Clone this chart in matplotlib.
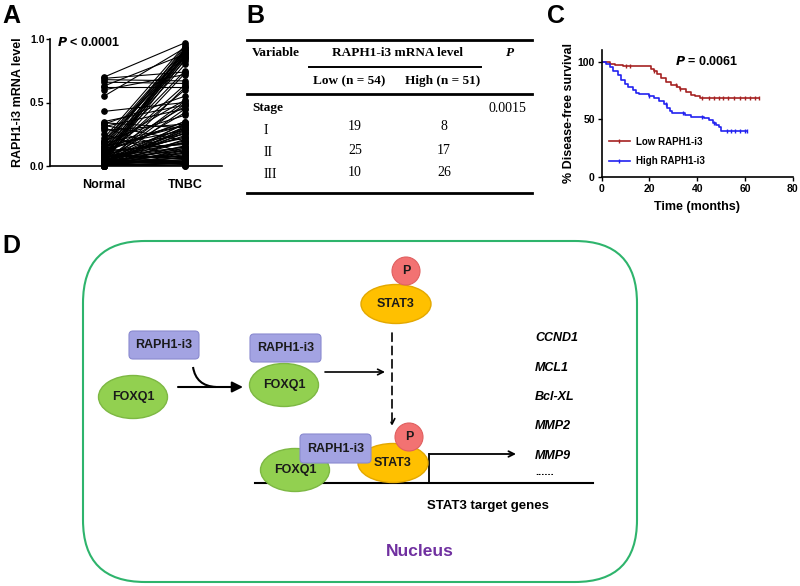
"""
Four-panel RAPH1-i3 figure: paired expression (A), clinical table (B),
Kaplan-Meier disease-free survival (C) and a pathway sketch (D).
"""

import numpy as np
import matplotlib
matplotlib.use("Agg")
import matplotlib.pyplot as plt
from matplotlib.patches import Ellipse, Circle, FancyBboxPatch, FancyArrowPatch, PathPatch
from matplotlib.path import Path
from matplotlib.lines import Line2D

plt.rcParams["font.family"] = ["Liberation Sans", "DejaVu Sans"]
plt.rcParams["font.weight"] = "bold"

# ── DATA ──────────────────────────────────────────────────────────
# Panel A: paired RAPH1-i3 mRNA levels (normal vs TNBC tissue)
GROUPS = ["Normal", "TNBC"]
normal = [
    0.70, 0.69, 0.68, 0.66, 0.63, 0.62, 0.60, 0.55, 0.43, 0.35,
    0.34, 0.33, 0.32, 0.31, 0.30, 0.28, 0.25, 0.22, 0.20, 0.20,
    0.19, 0.18, 0.18, 0.17, 0.16, 0.15, 0.15, 0.14, 0.14, 0.13,
    0.12, 0.12, 0.11, 0.11, 0.10, 0.10, 0.09, 0.09, 0.08, 0.08,
    0.08, 0.07, 0.07, 0.07, 0.06, 0.06, 0.06, 0.05, 0.05, 0.05,
    0.05, 0.04, 0.04, 0.04, 0.04, 0.03, 0.03, 0.03, 0.03, 0.03,
    0.02, 0.02, 0.02, 0.02, 0.02, 0.02, 0.01, 0.01, 0.01, 0.01,
    0.01, 0.01, 0.01, 0.00, 0.00, 0.00, 0.00, 0.00, 0.00, 0.00,
    0.12, 0.09, 0.06, 0.04, 0.02, 0.01, 0.15, 0.08, 0.03, 0.00,
    0.05, 0.10, 0.02, 0.07, 0.00, 0.03, 0.01, 0.04, 0.06, 0.11,
    0.00, 0.02, 0.05, 0.01, 0.00,
]
tnbc = [
    0.97, 0.74, 0.67, 0.65, 0.88, 0.62, 0.72, 0.93, 0.50, 0.48,
    0.30, 0.55, 0.20, 0.45, 0.10, 0.33, 0.05, 0.95, 0.92, 0.40,
    0.90, 0.86, 0.32, 0.89, 0.28, 0.94, 0.52, 0.91, 0.25, 0.85,
    0.87, 0.35, 0.83, 0.18, 0.80, 0.47, 0.75, 0.22, 0.92, 0.60,
    0.30, 0.88, 0.15, 0.64, 0.90, 0.27, 0.12, 0.86, 0.42, 0.08,
    0.73, 0.33, 0.20, 0.06, 0.51, 0.24, 0.14, 0.04, 0.93, 0.31,
    0.29, 0.10, 0.03, 0.19, 0.84, 0.49, 0.26, 0.07, 0.16, 0.02,
    0.34, 0.11, 0.05, 0.21, 0.09, 0.02, 0.30, 0.13, 0.62, 0.01,
    0.17, 0.06, 0.23, 0.04, 0.28, 0.12, 0.32, 0.08, 0.03, 0.45,
    0.15, 0.05, 0.89, 0.18, 0.07, 0.26, 0.02, 0.10, 0.01, 0.35,
    0.03, 0.14, 0.04, 0.00, 0.00,
]

# Panel B: stage distribution by RAPH1-i3 level
stages = ["I", "II", "III"]
low_counts = [19, 25, 10]
high_counts = [8, 17, 26]
stage_p = "0.0015"

# Panel C: Kaplan-Meier steps (months, % disease-free)
low_t = [0, 3.4, 5.5, 9, 20.5, 22, 23, 25, 27, 29, 31.5, 33, 35.5, 37.6, 39, 41, 66]
low_s = [100, 98, 97, 96, 94, 92, 89, 86, 82, 80, 78, 76, 74, 71, 70, 68, 68]
low_cens = [10, 12, 22, 31, 33, 42, 45, 47, 49, 51, 53, 55.5, 58, 60, 62, 64, 66]
high_t = [0, 2, 3.4, 4.8, 6.8, 8.2, 9.6, 11, 13, 14.4, 15.7, 19.8, 22, 24, 26,
          27.4, 28.7, 29.4, 35, 37.6, 43, 45, 46.5, 48, 49, 50, 61]
high_s = [100, 98, 95, 92, 88, 84, 81, 78, 75, 73, 72, 70, 68, 66, 63,
          60, 57, 55, 54, 52, 51, 49, 47, 45, 43, 40, 40]
high_cens = [20, 27, 34, 42, 47, 52.5, 54, 56, 58, 60, 61]

# Panel D: target genes
target_genes = ["CCND1", "MCL1", "Bcl-XL", "MMP2", "MMP9"]

RED = "#A52222"
BLUE = "#2222F0"
GREEN_BOX = "#2EB46C"
FOXQ1_C, FOXQ1_E = "#92D050", "#7DB843"
RAPH_C, RAPH_E = "#A3A3E2", "#8A8AD0"
STAT3_C, STAT3_E = "#FFC000", "#E3A800"
P_C, P_E = "#F27272", "#E06060"


def step_value(times, surv, t):
    idx = np.searchsorted(times, t, side="right") - 1
    return np.asarray(surv)[idx]


fig = plt.figure(figsize=(8, 5.86), dpi=100)

# canvas in pixel coordinates for the table and the diagram
cv = fig.add_axes([0, 0, 1, 1])
cv.set_xlim(0, 800)
cv.set_ylim(586, 0)
cv.axis("off")

for lab, x, y in [("A", 2, 4), ("B", 246, 4), ("C", 547, 4), ("D", 2, 234)]:
    cv.text(x, y, lab, fontsize=18, fontweight="bold", ha="left", va="top")

# ── PANEL A ───────────────────────────────────────────────────────
axA = fig.add_axes([50 / 800, 1 - 166 / 586, 172 / 800, 127 / 586])
axA.set_facecolor("none")
for n, t in zip(normal, tnbc):
    axA.plot([0, 1], [n, t], color="black", lw=0.8, zorder=2)
axA.plot(np.zeros(len(normal)), normal, "o", color="black", ms=3.8, zorder=3, clip_on=False)
axA.plot(np.ones(len(tnbc)), tnbc, "o", color="black", ms=3.8, zorder=3, clip_on=False)
axA.set_xlim(-0.667, 1.457)
axA.set_ylim(0, 1.0)
axA.set_yticks([0.0, 0.5, 1.0])
axA.set_yticklabels(["0.0", "0.5", "1.0"])
axA.set_xticks([0, 1])
axA.set_xticklabels(GROUPS, fontsize=9, fontweight="bold")
axA.tick_params(axis="x", length=0, pad=9)
axA.tick_params(axis="y", labelsize=7.5, length=3, width=1, pad=1)
axA.spines[["top", "right"]].set_visible(False)
for s in ("left", "bottom"):
    axA.spines[s].set_linewidth(1.2)
axA.set_ylabel("RAPH1-i3 mRNA level", fontsize=9, fontweight="bold", labelpad=4)
axA.text(-0.58, 0.97, "$\\bf{\\it{P}}$ < 0.0001", fontsize=9, fontweight="bold",
         ha="left", va="center")

# ── PANEL B (table) ───────────────────────────────────────────────
serif = ["Liberation Serif", "DejaVu Serif"]
cv.plot([247, 532], [40, 40], color="black", lw=2)
cv.plot([309, 481], [67, 67], color="black", lw=1.4)
cv.plot([247, 532], [94, 94], color="black", lw=2)
cv.plot([247, 532], [193, 193], color="black", lw=2)
tb = dict(family=serif, va="center")
cv.text(252, 53, "Variable", ha="left", fontweight="bold", fontsize=9.5, **tb)
cv.text(398, 53, "RAPH1-i3 mRNA level", ha="center", fontweight="bold", fontsize=9.5, **tb)
cv.text(510, 53, "P", ha="center", fontweight="bold", style="italic", fontsize=9.5, **tb)
cv.text(349, 81, "Low (n = 54)", ha="center", fontweight="bold", fontsize=9.5, **tb)
cv.text(443, 81, "High (n = 51)", ha="center", fontweight="bold", fontsize=9.5, **tb)
cv.text(252, 108, "Stage", ha="left", fontweight="bold", fontsize=9.5, **tb)
cv.text(507, 108, stage_p, ha="center", fontweight="normal", fontsize=10, **tb)
row_y = [127, 150, 172]
for i, (st, lo, hi) in enumerate(zip(stages, low_counts, high_counts)):
    cv.text(264, row_y[i] + 3, st, ha="left", fontweight="normal", fontsize=10, **tb)
    cv.text(355, row_y[i], str(lo), ha="center", fontweight="normal", fontsize=10, **tb)
    cv.text(444, row_y[i], str(hi), ha="center", fontweight="normal", fontsize=10, **tb)

# ── PANEL C (Kaplan-Meier) ────────────────────────────────────────
axC = fig.add_axes([601.7 / 800, 1 - 176.7 / 586, 191 / 800, 126.5 / 586])
axC.set_facecolor("none")
axC.step(low_t, low_s, where="post", color=RED, lw=1.2)
axC.step(high_t, high_s, where="post", color=BLUE, lw=1.2)
axC.plot(low_cens, step_value(low_t, low_s, low_cens), "|", color=RED, ms=3.5, mew=1)
axC.plot(high_cens, step_value(high_t, high_s, high_cens), "|", color=BLUE, ms=3.5, mew=1)
axC.set_xlim(0, 80)
axC.set_ylim(0, 110)
axC.set_xticks([0, 20, 40, 60, 80])
axC.set_yticks([0, 50, 100])
axC.tick_params(labelsize=7.5, length=3, width=1, pad=2)
axC.spines[["top", "right"]].set_visible(False)
for s in ("left", "bottom"):
    axC.spines[s].set_linewidth(1.2)
axC.set_xlabel("Time (months)", fontsize=9, fontweight="bold", labelpad=5)
axC.set_ylabel("% Disease-free survival", fontsize=9, fontweight="bold", labelpad=2)
axC.text(44, 100, "$\\bf{\\it{P}}$ = 0.0061", fontsize=9, fontweight="bold",
         ha="center", va="center")
handles = [Line2D([], [], color=RED, lw=1.2, marker="|", ms=3.5),
           Line2D([], [], color=BLUE, lw=1.2, marker="|", ms=3.5)]
axC.legend(handles, ["Low RAPH1-i3", "High RAPH1-i3"], frameon=False,
           prop=dict(size=7, weight="bold"), loc="upper left",
           bbox_to_anchor=(0.0, 0.37), handlelength=2.2, labelspacing=1.0,
           handletextpad=0.6, borderaxespad=0.3)

# ── PANEL D (pathway diagram) ─────────────────────────────────────
cv.add_patch(FancyBboxPatch((83, 241), 554, 341,
                            boxstyle="round,pad=0,rounding_size=62",
                            fc="none", ec=GREEN_BOX, lw=1.5))


def foxq1(x, y):
    cv.add_patch(Ellipse((x, y), 69, 43, fc=FOXQ1_C, ec=FOXQ1_E, lw=1, zorder=3))
    cv.text(x, y, "FOXQ1", fontsize=9, ha="center", va="center", color="#1a1a1a", zorder=6)


def raph(x0, y0, w=71, h=28):
    cv.add_patch(FancyBboxPatch((x0, y0), w, h, boxstyle="round,pad=0,rounding_size=4",
                                fc=RAPH_C, ec=RAPH_E, lw=0.8, zorder=4))
    cv.text(x0 + w / 2, y0 + h / 2, "RAPH1-i3", fontsize=9, ha="center", va="center",
            color="#1a1a1a", zorder=6)


def stat3(x, y, px, py):
    cv.add_patch(Ellipse((x, y), 70, 39, fc=STAT3_C, ec=STAT3_E, lw=1, zorder=3))
    cv.text(x, y, "STAT3", fontsize=9, ha="center", va="center", color="#1a1a1a", zorder=6)
    cv.add_patch(Circle((px, py), 14, fc=P_C, ec=P_E, lw=0.8, zorder=5))
    cv.text(px, py, "P", fontsize=9, ha="center", va="center", color="#1a1a1a", zorder=6)


# free RAPH1-i3 and FOXQ1
raph(129, 331, 70, 28)
foxq1(133, 397)
# binding arrow with incoming curve
curve = Path([(193, 367), (196, 386), (216, 387)], [Path.MOVETO, Path.CURVE3, Path.CURVE3])
cv.add_patch(PathPatch(curve, fc="none", ec="black", lw=1.5))
cv.add_patch(FancyArrowPatch((178, 387), (243, 387), arrowstyle="-|>", mutation_scale=16,
                             color="black", lw=1.5, shrinkA=0, shrinkB=0))
# complex
foxq1(284, 385)
raph(250, 334, 71, 28)
cv.add_patch(FancyArrowPatch((325, 372), (385, 372), arrowstyle="->", mutation_scale=10,
                             color="black", lw=1.2, shrinkA=0, shrinkB=0))
# phosphorylated STAT3 and dashed arrow to DNA
stat3(396, 304, 406, 271)
cv.add_patch(FancyArrowPatch((392, 333), (392, 426), arrowstyle="->", mutation_scale=10,
                             color="black", lw=1.2, linestyle=(0, (5, 3)),
                             shrinkA=0, shrinkB=0))
# DNA line and bound complex
cv.plot([255, 593], [483, 483], color="black", lw=1.5, zorder=2)
foxq1(295, 470)
stat3(393, 463, 409, 437)
raph(300, 434, 71, 29)
# transcription start arrow
cv.plot([429, 429], [483, 454], color="black", lw=1.3)
cv.add_patch(FancyArrowPatch((429, 454), (516, 454), arrowstyle="->", mutation_scale=10,
                             color="black", lw=1.3, shrinkA=0, shrinkB=0))

gene_y = [338, 368, 397, 426, 456]
for g, y in zip(target_genes, gene_y):
    cv.text(535, y, g, fontsize=9, fontweight="bold", style="italic", ha="left", va="center")
cv.text(535, 472, "......", fontsize=8, fontweight="bold", ha="left", va="center")
cv.text(427, 506, "STAT3 target genes", fontsize=9.5, fontweight="bold", ha="left", va="center")
cv.text(420, 551, "Nucleus", fontsize=12.5, fontweight="bold", color="#7030A0",
        ha="center", va="center")

fig.savefig("out.png", dpi=100)
